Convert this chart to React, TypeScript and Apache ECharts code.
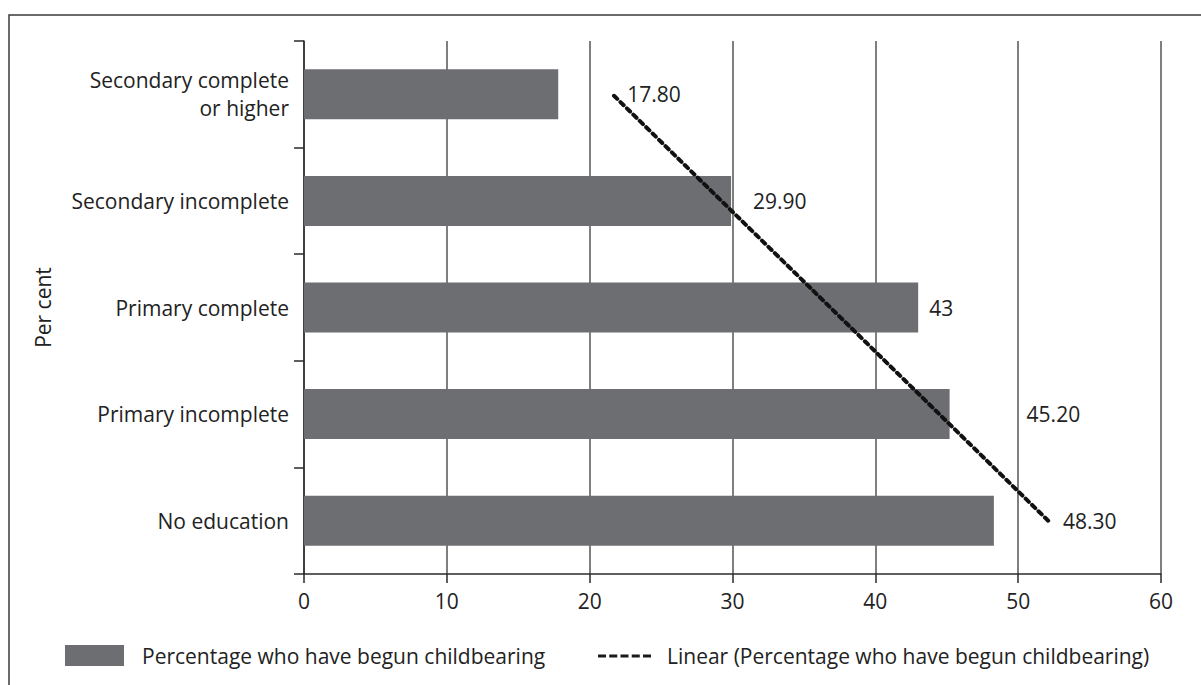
import React, { useEffect, useRef } from "react";
import * as echarts from "echarts";

const categories = [
  "No education",
  "Primary incomplete",
  "Primary complete",
  "Secondary incomplete",
  "Secondary complete\nor higher",
];
const values = [48.3, 45.2, 43, 29.9, 17.8];
const valueLabels = ["48.30", "45.20", "43", "29.90", "17.80"];
// Linear trendline read at the first and last category
const trendValues = [52.1, 21.6];
const seriesName = "Percentage who have begun childbearing";
const trendName = "Linear (Percentage who have begun childbearing)";
const axisName = "Per cent";

const labelOffsets = [64, 72, 6, 17, 64];

const FONT = "Open Sans";
const TEXT = "#222";
const FS = 21;

const dashIcon =
  "path://M0,0H8V3H0Z M11.25,0H19.25V3H11.25Z M22.5,0H30.5V3H22.5Z M33.75,0H41.75V3H33.75Z M45,0H53V3H45Z";

export default function App() {
  const ref = useRef<HTMLDivElement>(null);
  useEffect(() => {
    if (!ref.current) return;
    const chart = echarts.init(ref.current, null, { renderer: "svg" });
    const option: any = {
      animation: false,
      textStyle: { fontFamily: FONT, color: TEXT },
      grid: { left: 304, top: 41, right: 40, bottom: 111, containLabel: false },
      xAxis: {
        type: "value",
        min: 0,
        max: 60,
        interval: 10,
        axisLine: { show: true, lineStyle: { color: "#2a2a2a", width: 1.5 } },
        axisTick: { show: true, length: 9, lineStyle: { color: "#2a2a2a", width: 1.5 } },
        axisLabel: { fontFamily: FONT, fontSize: FS, color: TEXT, margin: 16 },
        splitLine: { show: true, lineStyle: { color: "#555", width: 1.5 } },
      },
      yAxis: {
        type: "category",
        data: categories,
        name: axisName,
        nameLocation: "middle",
        nameGap: 251,
        nameRotate: 90,
        nameTextStyle: { fontFamily: FONT, fontSize: FS, color: TEXT },
        axisLine: { show: true, lineStyle: { color: "#2a2a2a", width: 1.5 } },
        axisTick: { show: true, length: 10, alignWithLabel: false, lineStyle: { color: "#2a2a2a", width: 1.5 } },
        axisLabel: {
          fontFamily: FONT,
          fontSize: FS,
          color: TEXT,
          margin: 15,
          lineHeight: 28,
          align: "right",
        },
        splitLine: { show: false },
      },
      legend: [
        {
          data: [seriesName],
          left: 65,
          top: 645,
          itemWidth: 59,
          itemHeight: 21,
          padding: 0,
          icon: "rect",
          textStyle: { fontFamily: FONT, fontSize: FS, color: TEXT, padding: [0, 0, 0, 13] },
        },
        {
          data: [{ name: trendName, icon: dashIcon }],
          left: 598,
          top: 645.5,
          itemWidth: 53,
          itemHeight: 3,
          symbolKeepAspect: false,
          padding: 0,
          itemStyle: { color: "#1a1a1a" },
          textStyle: { fontFamily: FONT, fontSize: FS, color: TEXT, padding: [0, 0, 0, 11] },
        },
      ],
      series: [
        {
          name: seriesName,
          type: "bar",
          barWidth: 50,
          itemStyle: { color: "#6d6e71" },
          data: values.map((v, i) => ({
            value: v,
            label: {
              show: true,
              position: "right",
              offset: [labelOffsets[i], 0],
              formatter: valueLabels[i],
              fontFamily: FONT,
              fontSize: FS,
              color: TEXT,
            },
          })),
          z: 2,
        },
        {
          name: trendName,
          type: "line",
          symbol: "none",
          data: [
            [trendValues[0], 0],
            [trendValues[1], categories.length - 1],
          ],
          lineStyle: { color: "#111", width: 4, type: [4.5, 4.5], cap: "round" },
          itemStyle: { color: "#111" },
          z: 3,
        },
      ],
      graphic: [
        {
          type: "rect",
          shape: { x: 9, y: 15, width: 1400, height: 900 },
          style: { fill: "none", stroke: "#3a3a3a", lineWidth: 1.5 },
          silent: true,
        },
      ],
    };
    chart.setOption(option);
    return () => chart.dispose();
  }, []);
  return (
    <div
      ref={ref}
      style={{ position: "absolute", left: 0, top: 0, width: 1201, height: 685, background: "#fff" }}
    />
  );
}
